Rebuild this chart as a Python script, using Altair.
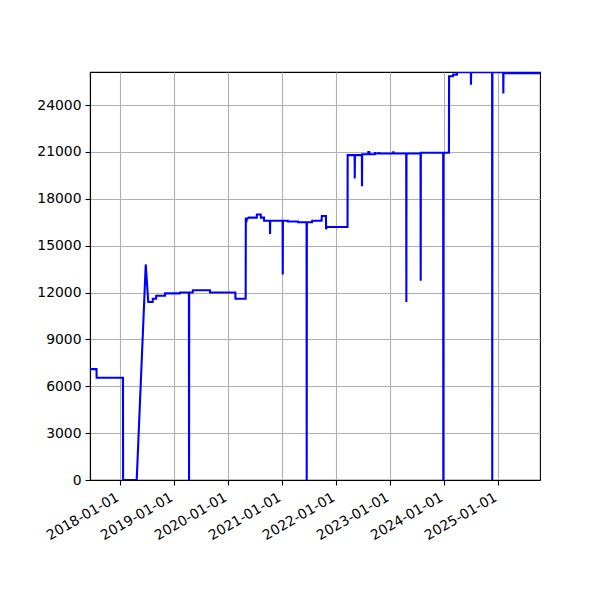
import altair as alt
import pandas as pd

dates = [
    "2017-06-12", "2017-07-26", "2017-07-27", "2018-01-21", "2018-01-22", "2018-04-24",
    "2018-06-24", "2018-07-11", "2018-08-10", "2018-08-11", "2018-09-02", "2018-09-03",
    "2018-11-01", "2018-11-02", "2019-02-10", "2019-02-11", "2019-04-12", "2019-04-13",
    "2019-04-14", "2019-05-08", "2019-05-09", "2019-09-01", "2019-09-02", "2020-02-20",
    "2020-02-21", "2020-04-30", "2020-05-01", "2020-05-04", "2020-05-08", "2020-05-20",
    "2020-07-14", "2020-07-15", "2020-08-10", "2020-08-11", "2020-09-01", "2020-09-02",
    "2020-10-11", "2020-10-12", "2020-10-13", "2021-01-05", "2021-01-06", "2021-01-07",
    "2021-02-10", "2021-02-11", "2021-04-19", "2021-04-20", "2021-06-16", "2021-06-17",
    "2021-06-18", "2021-07-23", "2021-07-24", "2021-09-26", "2021-09-27", "2021-10-25",
    "2021-10-26", "2021-10-31", "2022-03-20", "2022-03-21", "2022-05-07", "2022-05-08",
    "2022-05-09", "2022-06-25", "2022-06-26", "2022-06-27", "2022-08-07", "2022-08-08",
    "2022-08-14", "2022-08-15", "2022-09-21", "2022-09-22", "2022-09-23", "2022-10-18",
    "2022-10-19", "2022-10-20", "2023-01-23", "2023-01-24", "2023-01-25", "2023-04-21",
    "2023-04-22", "2023-04-23", "2023-07-27", "2023-07-28", "2023-07-29", "2023-12-27",
    "2023-12-28", "2023-12-29", "2024-02-04", "2024-02-05", "2024-03-02", "2024-03-03",
    "2024-03-29", "2024-03-30", "2024-07-01", "2024-07-02", "2024-07-03", "2024-11-22",
    "2024-11-23", "2024-11-24", "2025-02-05", "2025-02-06", "2025-02-07", "2025-10-12",
]
values = [
    7100, 7100, 6550, 6550, 0, 0,
    13800, 11400, 11400, 11600, 11600, 11800,
    11800, 11950, 11950, 12000, 12000, 0,
    12000, 12000, 12150, 12150, 12000, 12000,
    11600, 11600, 16800, 16500, 16700, 16800,
    16800, 17000, 17000, 16800, 16800, 16600,
    16600, 15750, 16600, 16600, 13150, 16600,
    16600, 16550, 16550, 16500, 16500, 0,
    16500, 16500, 16600, 16600, 16900, 16900,
    16050, 16200, 16200, 20800, 20800, 19300,
    20800, 20800, 18800, 20850, 20850, 21000,
    21000, 20850, 20850, 21000, 20900, 20900,
    21000, 20900, 20900, 21050, 20900, 20900,
    11400, 20900, 20900, 12750, 20950, 20950,
    0, 20950, 20950, 25850, 25850, 25950,
    25950, 26100, 26100, 25300, 26100, 26100,
    0, 26100, 26100, 24750, 26050, 26050,
]
x_domain = ["2017-06-12", "2025-10-12"]
y_domain = [0, 26120]
y_ticks = [0, 3000, 6000, 9000, 12000, 15000, 18000, 21000, 24000]

to_ms = lambda s: pd.to_datetime(pd.Series(s)).astype("int64") // 10**6
df = pd.DataFrame({"t": to_ms(dates), "v": values})
xd = [int(v) for v in to_ms(x_domain)]

font = "DejaVu Sans"
chart = (
    alt.Chart(df)
    .mark_line(color="#0000ff", strokeWidth=2.1, clip=True)
    .encode(
        x=alt.X(
            "t:T",
            scale=alt.Scale(type="utc", domain=xd, nice=False),
            axis=alt.Axis(
                title=None,
                format="%Y-%m-%d",
                tickCount={"interval": "year", "step": 1},
                labelAngle=330,
                labelAlign="right",
                labelBaseline="top",
                labelPadding=5,
                labelOffset=-6,
                tickSize=5,
                labelFlush=False,
                labelOverlap=False,
            ),
        ),
        y=alt.Y(
            "v:Q",
            scale=alt.Scale(domain=y_domain, nice=False, zero=True),
            axis=alt.Axis(title=None, values=y_ticks, format="d", tickSize=5,
                          labelPadding=4, labelFlush=False),
        ),
    )
    .properties(
        width=450,
        height=408,
        background="white",
        autosize=alt.AutoSizeParams(type="none"),
        padding={"left": 82, "top": 64, "right": 50, "bottom": 110},
    )
    .configure_view(stroke="black", strokeWidth=1.1)
    .configure_axis(
        grid=True,
        gridColor="#b0b0b0",
        gridWidth=1.1,
        domainColor="black",
        domainWidth=1.1,
        tickColor="black",
        tickWidth=1.1,
        labelFont=font,
        labelFontSize=13.9,
        labelColor="black",
    )
)

chart.save("out.html", embed_options={"renderer": "svg", "actions": False})
